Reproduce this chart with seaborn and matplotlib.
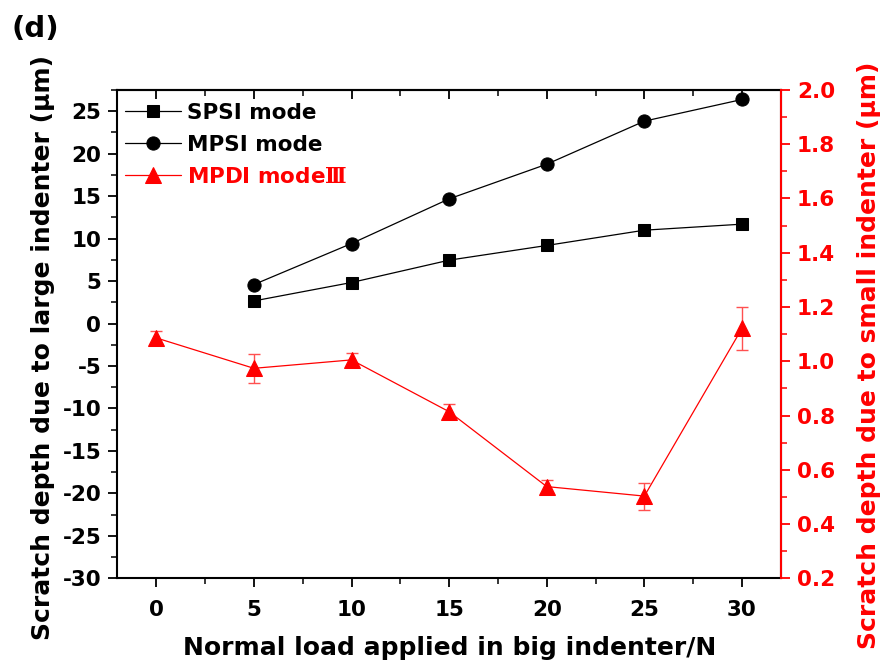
import numpy as np
import pandas as pd
import matplotlib
matplotlib.use("Agg")
import matplotlib.pyplot as plt
from matplotlib.ticker import MultipleLocator
import seaborn as sns

# Normal load on the big indenter (N)
load = [0, 5, 10, 15, 20, 25, 30]

# Scratch depth due to the large indenter (um), left axis
spsi_load = [5, 10, 15, 20, 25, 30]
spsi_depth = [2.66, 4.83, 7.46, 9.19, 10.99, 11.70]
mpsi_load = [5, 10, 15, 20, 25, 30]
mpsi_depth = [4.59, 9.42, 14.68, 18.76, 23.83, 26.38]

# Scratch depth due to the small indenter (um), right axis
mpdi_depth = [1.086, 0.974, 1.005, 0.814, 0.538, 0.503, 1.121]
mpdi_err = [0.025, 0.053, 0.024, 0.027, 0.023, 0.050, 0.080]

series_names = ["SPSI mode", "MPSI mode", "MPDI mode$\\mathrm{\u2162}$"]

sns.set_theme(style="ticks")
plt.rcParams.update({
    "font.family": ["DejaVu Sans"],
    "font.weight": "bold",
    "text.color": "black",
    "axes.labelcolor": "black",
    "xtick.color": "black",
    "ytick.color": "black",
    "axes.unicode_minus": False,
    "mathtext.fontset": "custom",
    "mathtext.rm": "DejaVu Serif",
})

fig = plt.figure(figsize=(8.83, 6.68), dpi=100)
ax = fig.add_axes([0.1328, 0.1343, 0.7517, 0.7310])
ax2 = ax.twinx()

df_s = pd.DataFrame({"load": spsi_load, "depth": spsi_depth})
df_m = pd.DataFrame({"load": mpsi_load, "depth": mpsi_depth})
df_d = pd.DataFrame({"load": load, "depth": mpdi_depth, "err": mpdi_err})

sns.lineplot(data=df_s, x="load", y="depth", ax=ax, color="black", lw=0.9,
             marker="s", markersize=8.5, markeredgecolor="black",
             label=series_names[0], legend=False)
sns.lineplot(data=df_m, x="load", y="depth", ax=ax, color="black", lw=0.9,
             marker="o", markersize=9.5, markeredgecolor="black",
             label=series_names[1], legend=False)

ax2.errorbar(df_d["load"], df_d["depth"], yerr=df_d["err"], fmt="none",
             ecolor="#ff5050", elinewidth=1.0, capsize=4, capthick=1.0, zorder=2)
sns.lineplot(data=df_d, x="load", y="depth", ax=ax2, color="red", lw=0.9,
             marker="^", markersize=11, markeredgecolor="red",
             label=series_names[2], legend=False, zorder=3)

# Axis limits and ticks
ax.set_xlim(-2, 32)
ax.set_ylim(-30, 27.5)
ax2.set_ylim(0.2, 2.0)
ax.xaxis.set_major_locator(MultipleLocator(5))
ax.xaxis.set_minor_locator(MultipleLocator(2.5))
ax.yaxis.set_major_locator(MultipleLocator(5))
ax.yaxis.set_minor_locator(MultipleLocator(2.5))
ax2.set_yticks(np.round(np.arange(0.2, 2.01, 0.2), 1))
ax2.set_yticklabels([f"{v:.1f}" for v in np.arange(0.2, 2.01, 0.2)])
ax2.yaxis.set_minor_locator(MultipleLocator(0.1))

tick_size = 15.5
ax.tick_params(axis="both", which="major", direction="out", length=6.5, width=1.3,
               labelsize=tick_size, pad=5)
ax.tick_params(axis="x", which="major", pad=9)
ax.tick_params(axis="both", which="minor", direction="out", length=4, width=1.1)
ax.tick_params(axis="y", which="both", right=False)
ax2.tick_params(axis="y", which="major", direction="out", length=6.5, width=1.3,
                colors="red", labelsize=tick_size, pad=5)
ax2.tick_params(axis="y", which="minor", direction="out", length=4, width=1.1, colors="red")

# inward ticks along the top spine
top = ax.secondary_xaxis("top")
top.xaxis.set_major_locator(MultipleLocator(5))
top.xaxis.set_minor_locator(MultipleLocator(2.5))
top.tick_params(axis="x", which="major", direction="in", length=6.5, width=1.3, labeltop=False)
top.tick_params(axis="x", which="minor", direction="in", length=4, width=1.1)
top.spines["top"].set_linewidth(1.5)

for lbl in ax.get_xticklabels() + ax.get_yticklabels() + ax2.get_yticklabels():
    lbl.set_fontweight("bold")

for sp in ax.spines.values():
    sp.set_linewidth(1.5)
    sp.set_color("black")
for name, sp in ax2.spines.items():
    sp.set_linewidth(1.5)
    sp.set_visible(name == "right")
ax2.spines["right"].set_color("red")

label_size = 18
ax.set_xlabel("Normal load applied in big indenter/N", fontsize=label_size,
              fontweight="bold", labelpad=12)
ax.set_ylabel("Scratch depth due to large indenter (\u03bcm)", fontsize=label_size,
              fontweight="bold")
ax2.set_ylabel("Scratch depth due to small indenter (\u03bcm)", fontsize=label_size,
               fontweight="bold", color="red")
ax.yaxis.set_label_coords(-0.094, 0.473)
ax2.yaxis.set_label_coords(1.115, 0.457)

# Legend combining both axes
h1, l1 = ax.get_legend_handles_labels()
h2, l2 = ax2.get_legend_handles_labels()
ax2.set_zorder(ax.get_zorder() + 1)
ax2.patch.set_visible(False)
leg = ax2.legend(h1 + h2, l1 + l2, loc="upper left", bbox_to_anchor=(-0.0075, 1.0),
                 frameon=False, fontsize=15.5, handlelength=2.6, handletextpad=0.25,
                 labelspacing=0.55, borderaxespad=0.2)
for txt in leg.get_texts():
    txt.set_fontweight("bold")
leg.get_texts()[2].set_color("red")

fig.text(0.013, 0.935, "(d)", fontsize=21, fontweight="bold", ha="left", va="bottom")

fig.savefig("out.png", dpi=100)
